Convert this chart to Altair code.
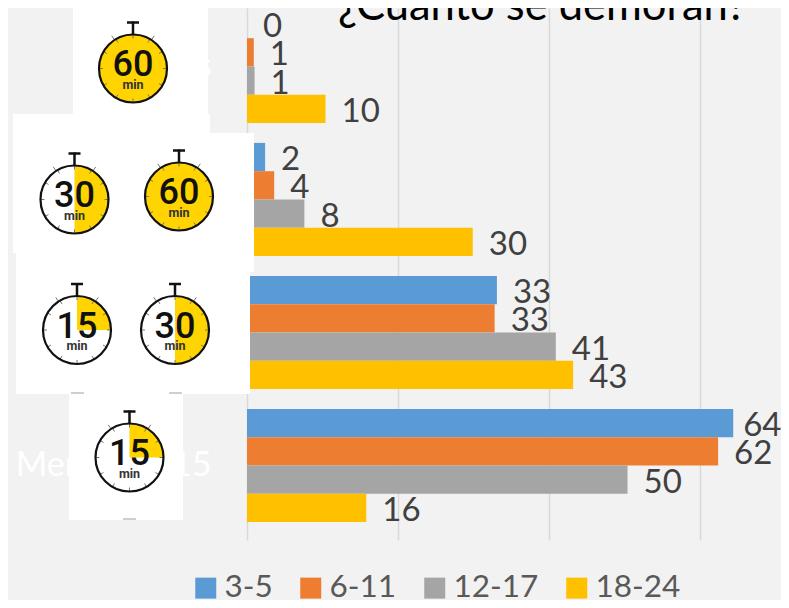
import math
import altair as alt
import pandas as pd

# --- chart data ---
categories = ["60 o más", "30 a 60", "15 a 30", "Menos de 15"]
series = ["3-5", "6-11", "12-17", "18-24"]
colors = ["#5B9BD5", "#ED7D31", "#A5A5A5", "#FFC000"]
values_60 = [0, 0.9, 1.0, 10.4]
values_30 = [2.4, 3.6, 7.6, 29.9]
values_15 = [33.1, 32.8, 40.9, 43.2]
values_00 = [64.4, 62.4, 50.4, 15.8]
title_text = "¿Cuánto se demoran?"
grid_values = [0, 20, 40, 60]

rows = []
for cat, vals in zip(categories, [values_60, values_30, values_15, values_00]):
    for s, v in zip(series, vals):
        rows.append({"cat": cat, "serie": s, "valor": v})
df = pd.DataFrame(rows)

# --- stopwatch pictures pasted over the category labels (page pixels) ---
paper = [(73, 208, 6, 133), (13, 210, 114, 253), (208, 254, 133, 272),
         (16, 250, 253, 394), (69, 183, 393, 520)]
watches = [(133, 68.5, 60), (74.5, 199.5, 30), (179, 196.5, 60),
           (77, 330, 15), (175, 330, 30), (129.5, 457.5, 15)]
dashes = [(71, 84, 393), (169, 182, 393), (123, 136, 519)]

PLOT_W = 534
px_x = alt.Scale(domain=[0, 781], range=[-247, PLOT_W], nice=False, zero=False)
px_y = alt.Scale(domain=[0, 532], range=[-8, 524], nice=False, zero=False)
R = 34


def X(f):
    return alt.X(f, type="quantitative", scale=px_x, axis=None)


def Y(f):
    return alt.Y(f, type="quantitative", scale=px_y, axis=None)


paper_df = pd.DataFrame(
    [{"x0": a, "x1": b, "y0": c, "y1": d, "o": i} for i, (a, b, c, d) in enumerate(paper)]
)
fill_df = pd.DataFrame(
    [{"x": x, "y": y, "t0": 0.0, "t1": m / 60 * 2 * math.pi} for x, y, m in watches]
)
ring_df = pd.DataFrame([{"x": x, "y": y} for x, y, m in watches])
seg_thick, seg_thin = [], []
for x, y, m in watches:
    top = y - R
    seg_thick.append({"x0": x, "x1": x, "y0": top - 13, "y1": top})
    seg_thick.append({"x0": x - 6, "x1": x + 6, "y0": top - 12, "y1": top - 12})
    for sgn in (-1, 1):
        a = math.radians(33) * sgn
        seg_thin.append({"x0": x + (R + 1) * math.sin(a), "x1": x + (R + 5) * math.sin(a),
                         "y0": y - (R + 1) * math.cos(a), "y1": y - (R + 5) * math.cos(a)})
    for k in range(12):
        a = k * math.pi / 6
        seg_thin.append({"x0": x + (R - 4) * math.sin(a), "x1": x + R * math.sin(a),
                         "y0": y - (R - 4) * math.cos(a), "y1": y - R * math.cos(a)})
num_df = pd.DataFrame([{"x": x, "y": y - 3.5, "t": str(m)} for x, y, m in watches])
min_df = pd.DataFrame([{"x": x, "y": y + 16, "t": "min"} for x, y, m in watches])
dash_df = pd.DataFrame([{"x0": a, "x1": b, "y0": c, "y1": c} for a, b, c in dashes])
title_df = pd.DataFrame([{"x": 338, "y": 20, "t": title_text}])

icon_layers = [
    alt.Chart(title_df).mark_text(font="Lato", fontSize=43.5, color="#000000", align="left",
                                  baseline="alphabetic").encode(
        x=X("x"), y=Y("y"), text="t:N"),
    alt.Chart(paper_df).mark_rect(color="#ffffff").encode(
        x=X("x0"), x2="x1", y=Y("y0"), y2="y1"),
    alt.Chart(dash_df).mark_rule(color="#bfbfbf", strokeWidth=1.5).encode(
        x=X("x0"), x2="x1", y=Y("y0"), y2="y1"),
    alt.Chart(fill_df).mark_arc(color="#FFD400", outerRadius=R, innerRadius=0).encode(
        x=X("x"), y=Y("y"),
        theta=alt.Theta("t0:Q", scale=None, stack=None),
        theta2=alt.Theta2("t1:Q")),
    alt.Chart(pd.DataFrame(seg_thin)).mark_rule(color="#777777", strokeWidth=1).encode(
        x=X("x0"), x2="x1", y=Y("y0"), y2="y1"),
    alt.Chart(ring_df).mark_point(filled=False, size=(2 * R) ** 2, shape="circle",
                                  color="#111111", strokeWidth=2.2, opacity=1).encode(
        x=X("x"), y=Y("y")),
    alt.Chart(pd.DataFrame(seg_thick)).mark_rule(color="#111111", strokeWidth=2.5).encode(
        x=X("x0"), x2="x1", y=Y("y0"), y2="y1"),
    alt.Chart(num_df).mark_text(font="Roboto", fontSize=36, fontWeight=500, color="#111111",
                                baseline="middle", align="center").encode(
        x=X("x"), y=Y("y"), text="t:N"),
    alt.Chart(min_df).mark_text(font="Roboto", fontSize=12.5, fontWeight=700, color="#333333",
                                baseline="middle", align="center").encode(
        x=X("x"), y=Y("y"), text="t:N"),
]
icons = alt.layer(*icon_layers)

# --- bars ---
x_enc = alt.X(
    "valor:Q",
    scale=alt.Scale(domain=[0, PLOT_W / 7.55], nice=False, zero=False),
    axis=alt.Axis(values=grid_values, labels=False, ticks=False, domain=False, title=None,
                  grid=True, gridColor="#D9D9D9", gridWidth=1.5),
)
y_enc = alt.Y(
    "cat:N",
    sort=categories,
    scale=alt.Scale(domain=categories, range=[-8, 524], paddingInner=0, paddingOuter=0),
    axis=alt.Axis(title=None, ticks=False, domain=False, labelColor="#ffffff", labelFontSize=34,
                  labelFont="Lato", labelPadding=36, labelLimit=0, grid=False),
)
off = alt.YOffset("serie:N", sort=series,
                  scale=alt.Scale(domain=series, paddingInner=0, paddingOuter=0.35))

bars = alt.Chart(df).mark_bar().encode(
    x=x_enc,
    y=y_enc,
    yOffset=off,
    color=alt.Color(
        "serie:N",
        sort=series,
        scale=alt.Scale(domain=series, range=colors),
        legend=alt.Legend(
            orient="none", legendX=-57, legendY=564, direction="horizontal", columns=4,
            title=None, symbolType="square", symbolSize=441, symbolStrokeWidth=0,
            symbolOpacity=1, labelFont="Lato", labelFontSize=31.5, labelColor="#595959",
            labelOffset=3, columnPadding=22, labelLimit=0,
        ),
    ),
)
label_mark = dict(font="Lato", fontSize=33, color="#404040", align="left", baseline="middle", dy=3)
label_enc = dict(x=x_enc, y=y_enc, yOffset=off, text=alt.Text("valor:Q", format=".0f"))
labels = alt.Chart(df).transform_filter("datum.valor < 64").mark_text(dx=16, **label_mark).encode(**label_enc)
# the longest bar's label is pulled in a little so that it stays inside the drawing
label_max = alt.Chart(df).transform_filter("datum.valor >= 64").mark_text(dx=10, **label_mark).encode(**label_enc)

chart = (
    alt.layer(alt.layer(bars, labels, label_max), icons)
    .resolve_scale(x="independent", y="independent")
    .properties(
        width=PLOT_W,
        height=524,
        padding={"left": 239, "top": 0, "right": 0, "bottom": 68},
        autosize=alt.AutoSizeParams(type="none"),
        background="#F2F2F2",
    )
    .configure_view(stroke=None)
)

chart.save("out.html", embed_options={"renderer": "svg", "actions": False})
